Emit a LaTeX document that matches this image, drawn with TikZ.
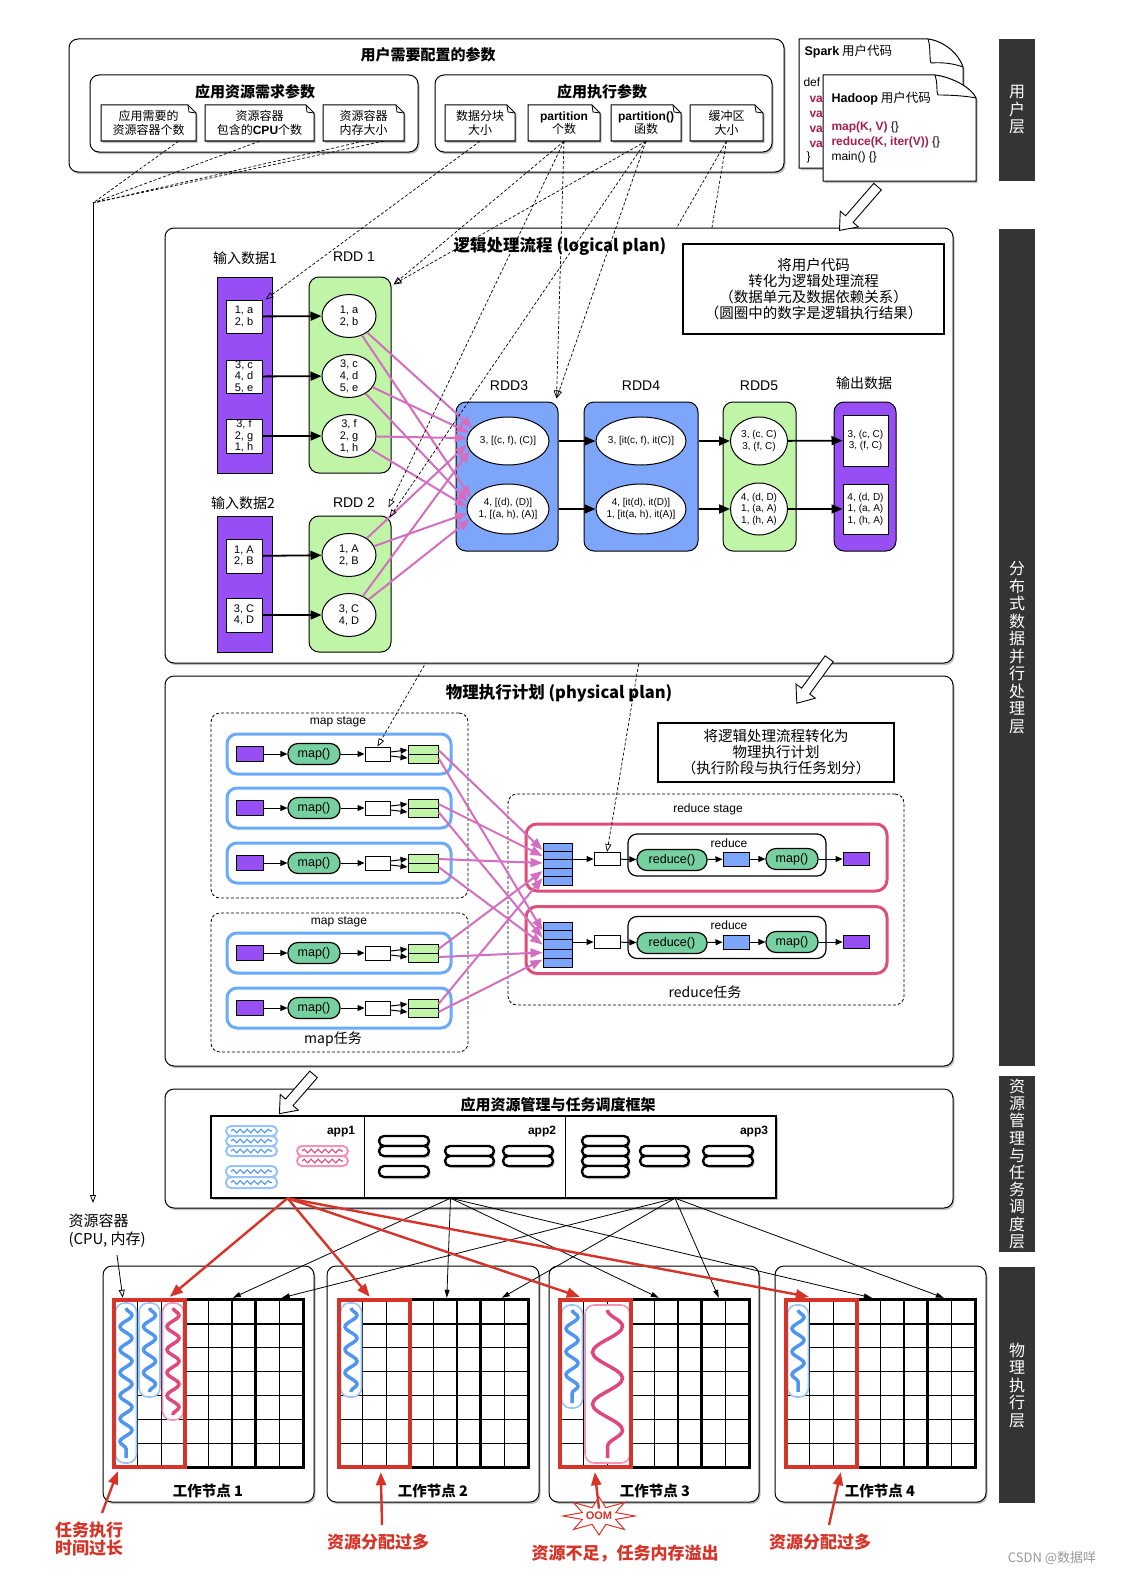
\documentclass[tikz,border=0pt]{standalone}
\usepackage{fontspec}
\setmainfont{Noto Sans CJK SC}
\newfontfamily\lat{Liberation Sans}
\usetikzlibrary{arrows.meta,shapes.geometric,shadows,fit,calc,decorations.pathmorphing}
\newcommand\fsz[2]{\fontsize{#1pt}{#2pt}\selectfont}
\definecolor{vpurple}{RGB}{152,78,245}
\definecolor{lgreen}{RGB}{192,245,168}
\definecolor{lblue}{RGB}{125,165,250}
\definecolor{pinkarr}{RGB}{212,110,192}
\definecolor{mint}{RGB}{118,208,160}
\definecolor{mapblue}{RGB}{105,170,250}
\definecolor{redtask}{RGB}{222,78,118}
\definecolor{annred}{RGB}{214,52,40}
\definecolor{bardark}{RGB}{52,52,52}
\definecolor{codered}{RGB}{168,30,78}
\definecolor{wblue}{RGB}{80,150,240}
\definecolor{capblue}{RGB}{150,195,250}
\definecolor{wpink}{RGB}{222,72,122}
\definecolor{cappink}{RGB}{240,150,180}
\newcommand\pdoc[6]{%
  \draw[line width=1pt,fill=white,shd] ({#2-#4/2},{#3-#5/2}) -- ({#2+#4/2-8},{#3-#5/2}) -- ({#2+#4/2},{#3-#5/2+8}) -- ({#2+#4/2},{#3+#5/2}) -- ({#2-#4/2},{#3+#5/2}) -- cycle;
  \draw[line width=0.8pt] ({#2+#4/2-8},{#3-#5/2}) -- ({#2+#4/2-7},{#3-#5/2+7}) -- ({#2+#4/2},{#3-#5/2+8});
  \node[docn,minimum width=#4pt,minimum height=#5pt] (#1) at (#2,#3) {#6};
}
\newcommand\wgrid[2]{%
  \node[fit={(#2,1300) ({#2+189},1467)},inner sep=0pt,fill=white] (#1) {};
  \foreach \k in {1,...,7}{\draw[line width=1.3pt] ({#2+\k*23.625},1300) -- ({#2+\k*23.625},1467);}
  \foreach \k in {1,...,6}{\draw[line width=1.3pt] (#2,{1300+\k*23.857}) -- ({#2+189},{1300+\k*23.857});}
  \draw[line width=2.8pt] ({#2+6*23.625},1300) -- ({#2+6*23.625},1467);
  \draw[line width=2.8pt] (#1.north west) rectangle (#1.south east);
}
\newcommand\wcap[8]{%
  \draw[draw=#5,line width=1.6pt,fill=white,rounded corners=9pt] (#1,#2) rectangle (#3,#4);
  \draw[#6,line width=3.5pt,decorate,decoration={snake,amplitude=#7pt,segment length=#8pt}] ({(#1+#3)/2},{#2+5}) -- ({(#1+#3)/2},{#4-5});
}
\newcommand\bcap[4]{\draw[line width=2.4pt,fill=white,rounded corners=5pt,shd] (#1,#2) rectangle (#3,#4);}
\newcommand\acap[6]{%
  \draw[draw=#5,line width=2pt,fill=white,rounded corners=5pt] (#1,#2) rectangle (#3,#4);
  \draw[#6,line width=1.1pt,decorate,decoration={snake,amplitude=1.8pt,segment length=7pt}] ({#1+5},{(#2+#4)/2}) -- ({#3-5},{(#2+#4)/2});
}
\newcommand\harrow[4]{%
  \begin{scope}[shift={(#1,#2)},rotate=#3]
    \draw[line width=0.9pt,fill=white] ({-#4/2},-5) -- ({#4/2-15},-5) -- ({#4/2-15},-12) -- ({#4/2},0) -- ({#4/2-15},12) -- ({#4/2-15},5) -- ({-#4/2},5) -- cycle;
  \end{scope}}
\begin{document}
\begin{tikzpicture}[x=1pt,y=-1pt,
  shd/.style={drop shadow={shadow xshift=1.5pt,shadow yshift=-2pt,opacity=0.35,fill=black!70}},
  bigbox/.style={fit={#1},inner sep=0pt,draw=black,line width=1pt,rounded corners=9pt,fill=white,shd},
  ttl/.style={font=\bfseries\fsz{15}{16}},
  bigttl/.style={font=\bfseries\fsz{16.5}{18}},
  docn/.style={inner sep=0pt,align=center,font=\fsz{12}{13.5}},
  notebox/.style={fit={#1},inner sep=0pt,draw=black,line width=1.1pt,fill=white},
  notetxt/.style={align=center,font=\fsz{14.5}{16}},
  lbl/.style={font=\fsz{14}{15}},
  rddl/.style={font=\lat\fsz{14}{15}},
  pur/.style={fit={#1},inner sep=0pt,draw=black,line width=1pt,fill=vpurple},
  purr/.style={fit={#1},inner sep=0pt,draw=black,line width=1pt,fill=vpurple,rounded corners=10pt},
  grn/.style={fit={#1},inner sep=0pt,draw=black,line width=1pt,fill=lgreen,rounded corners=10pt},
  blu/.style={fit={#1},inner sep=0pt,draw=black,line width=1pt,fill=lblue,rounded corners=10pt},
  wbox/.style={draw=black,line width=1pt,fill=white,inner sep=0pt,minimum width=36pt,align=center,font=\lat\fsz{11}{11.5}},
  ell/.style={ellipse,draw=black,line width=1pt,fill=white,inner sep=-8pt,align=center,font=\lat\fsz{11}{12}},
  ells/.style={ell,font=\lat\fsz{10}{11.5}},
  barr/.style={line width=1.8pt,-{Triangle[length=11pt,width=9pt]}},
  parr/.style={draw=pinkarr,line width=2pt,-{Triangle[length=12pt,width=9pt]}},
  darr/.style={line width=0.7pt,dash pattern=on 3pt off 2pt,-{Triangle[open,length=8pt,width=6pt]}},
  oarr/.style={line width=0.8pt,-{Triangle[open,length=8pt,width=6pt]}},
  sarr/.style={line width=1pt,-{Triangle[length=7pt,width=6pt]}},
  karr/.style={line width=0.8pt,-{Triangle[length=8pt,width=5pt]}},
  rarr/.style={draw=annred,line width=2.4pt,-{Triangle[length=13pt,width=10pt]}},
  stg/.style={fit={#1},inner sep=0pt,draw=black,line width=0.8pt,dash pattern=on 3pt off 2pt,rounded corners=9pt},
  mtask/.style={draw=mapblue,line width=3pt,fill=white,rounded corners=10pt,minimum width=224pt,minimum height=40pt,inner sep=0pt},
  rtask/.style={draw=redtask,line width=3pt,fill=white,rounded corners=11pt,minimum width=361pt,inner sep=0pt},
  prect/.style={draw=black,line width=1pt,fill=vpurple,minimum width=27pt,minimum height=15pt,inner sep=0pt},
  wrect/.style={draw=black,line width=1pt,fill=white,minimum width=25pt,minimum height=14pt,inner sep=0pt},
  grect/.style={draw=black,line width=1pt,fill=lgreen,minimum width=30pt,minimum height=18pt,inner sep=0pt},
  brect/.style={draw=black,line width=1pt,fill=lblue,minimum width=26pt,minimum height=14pt,inner sep=0pt},
  fn/.style={draw=black,line width=1.2pt,fill=mint,rounded corners=10pt,minimum height=21pt,inner sep=0pt,font=\lat\fsz{12.5}{13}},
  ibox/.style={draw=black,line width=1.2pt,fill=white,rounded corners=9pt,minimum width=198pt,minimum height=42pt,inner sep=0pt},
  barn/.style={fill=bardark,text=white,minimum width=36pt,inner sep=0pt,align=center,font=\fsz{16}{17.5}},
  anntxt/.style={text=annred,font=\bfseries\fsz{17}{18.5},align=center},
  sml/.style={font=\lat\fsz{12}{13}}
]
\useasboundingbox (0,0) rectangle (1120,1576);
\fill[white] (0,0) rectangle (1120,1576);

% ---------- layer bars ----------
\node[barn,minimum height=142pt] (bar1) at (1017,110) {用\\户\\层};
\node[barn,minimum height=837pt] (bar2) at (1017,647.5) {分\\布\\式\\数\\据\\并\\行\\处\\理\\层};
\node[barn,minimum height=176pt,font=\fsz{16}{17.2}] (bar3) at (1017,1164) {资\\源\\管\\理\\与\\任\\务\\调\\度\\层};
\node[barn,minimum height=236pt] (bar4) at (1017,1385) {物\\理\\执\\行\\层};

% ---------- user parameters ----------
\node[bigbox={(69,39) (784,172)}] (userp) {};
\node[ttl] (userpt) at (428,55) {用户需要配置的参数};
\node[bigbox={(90,75) (418,152)}] (resp) {};
\node[ttl] (respt) at (255,92) {应用资源需求参数};
\node[bigbox={(435,75) (772,152)}] (execp) {};
\node[ttl] (execpt) at (602,92) {应用执行参数};
\pdoc{d1}{148.5}{123}{95}{36}{应用需要的\\资源容器个数}
\pdoc{d2}{259.5}{123}{109}{36}{资源容器\\包含的\textbf{\lat CPU}个数}
\pdoc{d3}{363.5}{123}{81}{36}{资源容器\\内存大小}
\pdoc{d4}{480}{123}{70}{36}{数据分块\\大小}
\pdoc{d5}{564}{123}{72}{36}{\textbf{\lat partition}\\个数}
\pdoc{d6}{646}{123}{70}{36}{\textbf{\lat partition()}\\函数}
\pdoc{d7}{726.5}{123}{73}{36}{缓冲区\\大小}

% ---------- user code documents ----------
\draw[line width=1pt,fill=white,shd] (799,39) -- (928,39) .. controls (944,41) and (959,54) .. (963,67) -- (963,168) -- (799,168) -- cycle;
\draw[line width=0.9pt] (928,39) .. controls (931,48) and (929,58) .. (931,63) .. controls (944,62) and (955,64) .. (963,67);
\node[anchor=west,font=\fsz{12.5}{13}] (spk) at (801,52) {{\lat\bfseries Spark} 用户代码};
\node[anchor=west,sml] (spdef) at (800,82) {def};
\foreach \k/\yy in {1/98,2/113,3/128,4/143}{\node[anchor=west,font=\lat\bfseries\fsz{12}{13},text=codered] (spv\k) at (806,\yy) {val};}
\node[anchor=west,sml] (spend) at (803,157) {\}};
\draw[line width=1pt,fill=white,shd] (823,75) -- (935,75) .. controls (952,77) and (972,88) .. (976,98) -- (976,181) -- (823,181) -- cycle;
\draw[line width=0.9pt] (935,75) .. controls (938,84) and (936,92) .. (938,95) .. controls (952,95) and (966,96) .. (976,98);
\node[anchor=west,font=\fsz{12.5}{13}] (hdp) at (828,99) {{\lat\bfseries Hadoop} 用户代码};
\node[anchor=west,sml] (hmap) at (828,127) {\textcolor{codered}{\bfseries map(K, V)} \{\}};
\node[anchor=west,sml] (hred) at (828,142) {\textcolor{codered}{\bfseries reduce(K, iter(V))} \{\}};
\node[anchor=west,sml] (hmain) at (828,157) {main() \{\}};

% ---------- physical plan ----------
\node[bigbox={(165,676) (953,1066)}] (phys) {};
\node[bigttl] (physt) at (559,693) {物理执行计划 (physical plan)};
\node[notebox={(658,723) (894,782)}] (pnote) {};
\node[notetxt] (pnotet) at (pnote) {将逻辑处理流程转化为\\物理执行计划\\（执行阶段与执行任务划分）};
\node[stg={(211,713) (468,898)}] (ms1) {};
\node[sml] (ms1t) at (338,722) {map stage};
\node[stg={(211,913) (468,1052)}] (ms2) {};
\node[sml] (ms2t) at (339,922) {map stage};
\node[lbl] (mtl) at (333,1039) {map任务};
\foreach \i/\cy in {1/754,2/808,3/863,4/953,5/1008}{
  \node[mtask] (mt\i) at (339,\cy) {};
  \node[prect] (mp\i) at (249.5,\cy) {};
  \node[fn,minimum width=52pt] (mf\i) at (314,\cy) {map()};
  \node[wrect] (mw\i) at (377.5,\cy) {};
  \node[grect] (mg\i) at (423,\cy) {};
  \draw[line width=1pt] (mg\i.west) -- (mg\i.east);
  \draw[sarr] (mp\i) -- (mf\i);
  \draw[sarr] (mf\i) -- (mw\i);
  \draw[sarr] ([yshift=2pt]mw\i.east) -- ([yshift=4pt]mg\i.west);
  \draw[sarr] ([yshift=-2pt]mw\i.east) -- ([yshift=-4pt]mg\i.west);
}
\node[stg={(508,794) (904,1005)}] (rst) {};
\node[sml] (rstt) at (708,809) {reduce stage};
\node[lbl] (rtl) at (705,992) {reduce任务};
\foreach \i/\cy/\sy/\hh/\ty/\ey in {1/859/864/42/857.5/855,2/942/944.5/45/940/937.5}{
  \node[rtask,minimum height=67pt] (rt\i) at (706.5,\ty) {};
  \node[brect,minimum width=29pt,minimum height=\hh pt] (rs\i) at (557.5,\sy) {};
  \foreach \k in {1,2,3,4}{\draw[line width=1pt] ($(rs\i.north west)!\k/5!(rs\i.south west)$) -- ($(rs\i.north east)!\k/5!(rs\i.south east)$);}
  \node[wrect,minimum width=26pt,minimum height=13pt] (rw\i) at (607,\cy) {};
  \node[ibox] (rb\i) at (727,\ey) {};
  \node[sml] (rbt\i) at (729,{\ey-12}) {reduce};
  \node[fn,minimum width=70pt] (rf\i) at (672,{\cy+1}) {reduce()};
  \node[brect] (rbl\i) at (736,\cy) {};
  \node[fn,minimum width=52pt] (rm\i) at (792,\cy) {map()};
  \node[prect,minimum width=26pt,minimum height=13pt] (rp\i) at (856,\cy) {};
  \draw[sarr] (rs\i.east |- rw\i) -- (rw\i);
  \draw[sarr] (rw\i) -- (rf\i);
  \draw[sarr] (rf\i) -- (rbl\i);
  \draw[sarr] (rbl\i) -- (rm\i);
  \draw[sarr] (rm\i) -- (rp\i);
}
\foreach \i/\ya/\yb in {1/14/14,2/8/7,3/1/0,4/-7/-8,5/-14/-15}{
  \draw[parr] ([yshift=4pt]mg\i.east) -- ([yshift=\ya pt]rs1.west);
  \draw[parr] ([yshift=-4pt]mg\i.east) -- ([yshift=\yb pt]rs2.west);
}
% buffer size lines (behind logical plan)
\draw[darr] (d7.south) -- (mw1.north);
\draw[darr] (d7.south) -- (rw1.north);

% ---------- logical plan ----------
\node[bigbox={(165,228) (953,663)}] (logi) {};
\node[bigttl] (logit) at (560,246) {逻辑处理流程 (logical plan)};
\node[notebox={(683,244) (944,334)}] (lnote) {};
\node[notetxt] (lnotet) at (lnote) {将用户代码\\转化为逻辑处理流程\\（数据单元及数据依赖关系）\\（圆圈中的数字是逻辑执行结果）};
\node[lbl] (in1l) at (245,258) {输入数据1};
\node[rddl] (r1l) at (354,257) {RDD 1};
\node[lbl] (in2l) at (243,503) {输入数据2};
\node[rddl] (r2l) at (354,503) {RDD 2};
\node[rddl] (r3l) at (509,386) {RDD3};
\node[rddl] (r4l) at (641,386) {RDD4};
\node[rddl] (r5l) at (759,386) {RDD5};
\node[lbl] (outl) at (864,383) {输出数据};

\node[pur={(217,277) (272,473)}] (in1) {};
\node[wbox,minimum height=33pt] (ib1a) at (244,316.5) {1, a\\2, b};
\node[wbox,minimum height=33pt] (ib1b) at (244,376.5) {3, c\\4, d\\5, e};
\node[wbox,minimum height=34pt] (ib1c) at (244,436) {3, f\\2, g\\1, h};
\node[grn={(309,277) (391,473)}] (r1) {};
\node[ell,minimum width=54pt,minimum height=43pt] (r1a) at (349,316) {1, a\\2, b};
\node[ell,minimum width=54pt,minimum height=43pt] (r1b) at (349,376) {3, c\\4, d\\5, e};
\node[ell,minimum width=54pt,minimum height=43pt] (r1c) at (349,436) {3, f\\2, g\\1, h};
\node[pur={(217,516) (272,652)}] (in2) {};
\node[wbox,minimum height=34pt] (ib2a) at (244,556) {1, A\\2, B};
\node[wbox,minimum height=34pt] (ib2b) at (244,615) {3, C\\4, D};
\node[grn={(309,516) (391,652)}] (r2) {};
\node[ell,minimum width=54pt,minimum height=43pt] (r2a) at (349,555) {1, A\\2, B};
\node[ell,minimum width=54pt,minimum height=43pt] (r2b) at (349,615) {3, C\\4, D};
\node[blu={(456,402) (558,551)}] (r3) {};
\node[ells,minimum width=82pt,minimum height=48pt] (r3a) at (508,441) {3, [(c, f), (C)]};
\node[ells,minimum width=82pt,minimum height=50pt] (r3b) at (508,509) {4, [(d), (D)]\\1, [(a, h), (A)]};
\node[blu={(584,402) (698,551)}] (r4) {};
\node[ells,minimum width=90pt,minimum height=48pt] (r4a) at (641,441) {3, [it(c, f), it(C)]};
\node[ells,minimum width=90pt,minimum height=50pt] (r4b) at (641,509) {4, [it(d), it(D)]\\1, [it(a, h), it(A)]};
\node[grn={(723,402) (796,551)}] (r5) {};
\node[ells,minimum width=57pt,minimum height=48pt] (r5a) at (759,441) {3, (c, C)\\3, (f, C)};
\node[ells,minimum width=57pt,minimum height=52pt] (r5b) at (759,509) {4, (d, D)\\1, (a, A)\\1, (h, A)};
\node[purr={(834,402) (896,551)}] (out) {};
\node[wbox,minimum width=45pt,minimum height=51pt,font=\lat\fsz{10}{11.5}] (oa) at (865.5,440.5) {3, (c, C)\\3, (f, C)};
\node[wbox,minimum width=45pt,minimum height=50pt,font=\lat\fsz{10}{11.5}] (ob) at (865.5,509) {4, (d, D)\\1, (a, A)\\1, (h, A)};

\draw[barr] (ib1a) -- (r1a);
\draw[barr] (ib1b) -- (r1b);
\draw[barr] (ib1c) -- (r1c);
\draw[barr] (ib2a) -- (r2a);
\draw[barr] (ib2b) -- (r2b);
\draw[barr] (r3.east |- r3a) -- (r4a);
\draw[barr] (r3.east |- r3b) -- (r4b);
\draw[barr] (r4.east |- r4a) -- (r5a);
\draw[barr] (r4.east |- r4b) -- (r5b);
\draw[barr] (r5a) -- (oa);
\draw[barr] (r5b) -- (ob);
\foreach \src/\angA/\angB in {r1a/160/163,r1b/168/170,r1c/176/177,r2a/185/186,r2b/194/195}{
  \draw[parr] (\src) -- (r3a.\angA);
  \draw[parr] (\src) -- (r3b.\angB);
}

% parameter dashed lines into logical plan
\draw[darr] (d4.south) -- ([xshift=3pt]ib1a.north east);
\draw[darr] (d5.south) -- ([xshift=2pt,yshift=-8pt]r1.north east);
\draw[darr] (d6.south) -- ([xshift=2pt,yshift=-8pt]r1.north east);
\draw[darr] (d5.south) -- ([xshift=-2pt,yshift=3pt]r3.north east);
\draw[darr] (d6.south) -- ([xshift=-2pt,yshift=3pt]r3.north east);
\draw[darr] (d5.south) -- ([xshift=-3pt,yshift=8pt]r2.north east);
\draw[darr] (d6.south) -- ([xshift=-2pt,yshift=-2pt]r2.north east);

% resource parameter lines
\coordinate (rc) at (93,203);
\coordinate (rce) at (93,1203);
\draw[line width=0.7pt,dash pattern=on 3pt off 2pt] ([xshift=30pt]d1.south) -- (rc);
\draw[line width=0.7pt,dash pattern=on 3pt off 2pt] (d2.south) -- (rc);
\draw[line width=0.7pt,dash pattern=on 3pt off 2pt] (d3.south) -- (rc);
\draw[line width=0.7pt,dash pattern=on 3pt off 2pt] ([xshift=20pt]d3.south) -- (rc);
\draw[oarr] (rc) -- (rce);

% ---------- resource management ----------
\node[bigbox={(165,1089) (953,1208)}] (rmgr) {};
\node[ttl] (rmgrt) at (558,1105) {应用资源管理与任务调度框架};
\node[fit={(211,1116) (776,1198)},inner sep=0pt,draw=black,line width=1.2pt,fill=white,shd] (appf) {};
\node[fit={(211,1116) (364,1198)},inner sep=0pt] (app1) {};
\node[fit={(364,1116) (565,1198)},inner sep=0pt] (app2) {};
\node[fit={(565,1116) (776,1198)},inner sep=0pt] (app3) {};
\draw[line width=1.2pt] (app1.north east) -- (app1.south east);
\draw[line width=1.2pt] (app2.north east) -- (app2.south east);
\node[font=\lat\bfseries\fsz{12}{13}] (app1t) at (341,1132) {app1};
\node[font=\lat\bfseries\fsz{12}{13}] (app2t) at (542,1132) {app2};
\node[font=\lat\bfseries\fsz{12}{13}] (app3t) at (754,1132) {app3};
\acap{226}{1126}{277}{1136}{capblue}{wblue}
\acap{226}{1136}{277}{1146}{capblue}{wblue}
\acap{226}{1146}{277}{1156}{capblue}{wblue}
\acap{226}{1166}{277}{1177}{capblue}{wblue}
\acap{226}{1177}{277}{1188}{capblue}{wblue}
\acap{297}{1146}{348}{1156}{cappink}{wpink}
\acap{297}{1156}{348}{1166}{cappink}{wpink}
\bcap{379}{1136}{429}{1146}\bcap{379}{1146}{429}{1156}\bcap{379}{1166}{429}{1177}
\bcap{445}{1146}{494}{1156}\bcap{445}{1156}{494}{1166}
\bcap{503}{1146}{553}{1156}\bcap{503}{1156}{553}{1166}
\bcap{582}{1136}{629}{1146}\bcap{582}{1146}{629}{1156}\bcap{582}{1156}{629}{1166}\bcap{582}{1166}{629}{1177}
\bcap{640}{1146}{689}{1156}\bcap{640}{1156}{689}{1166}
\bcap{703}{1146}{753}{1156}\bcap{703}{1156}{753}{1166}

% ---------- worker nodes ----------
\node[bigbox={(103,1266) (314,1502)}] (wn1) {};
\node[bigbox={(327,1266) (539,1502)}] (wn2) {};
\node[bigbox={(549,1266) (759,1502)}] (wn3) {};
\node[bigbox={(775,1266) (986,1502)}] (wn4) {};
\wgrid{g1}{114}
\wgrid{g2}{339}
\wgrid{g3}{560}
\wgrid{g4}{786}
\wcap{115.5}{1303}{136.5}{1463}{capblue}{wblue}{6}{23}
\wcap{139}{1303}{160}{1397}{capblue}{wblue}{6}{23}
\wcap{162.5}{1303}{183.5}{1420}{cappink}{wpink}{6}{23}
\wcap{340.5}{1303}{361.5}{1397}{capblue}{wblue}{6}{23}
\wcap{561.5}{1305}{582.5}{1408}{capblue}{wblue}{6}{23}
\wcap{585}{1305}{630}{1463}{cappink}{wpink}{15}{52}
\wcap{787.5}{1305}{808.5}{1397}{capblue}{wblue}{6}{23}
\draw[annred,line width=4pt] (g1.north west) rectangle ([xshift=70.9pt]g1.south west);
\draw[annred,line width=4pt] (g2.north west) rectangle ([xshift=70.9pt]g2.south west);
\draw[annred,line width=4pt] (g3.north west) rectangle ([xshift=70.9pt]g3.south west);
\draw[annred,line width=4pt] (g4.north west) rectangle ([xshift=70.9pt]g4.south west);
\node[font=\bfseries\fsz{14.5}{15}] (wn1t) at (208,1491) {工作节点 1};
\node[font=\bfseries\fsz{14.5}{15}] (wn2t) at (433,1491) {工作节点 2};
\node[font=\bfseries\fsz{14.5}{15}] (wn3t) at (655,1491) {工作节点 3};
\node[font=\bfseries\fsz{14.5}{15}] (wn4t) at (880,1491) {工作节点 4};

% scheduling arrows
\draw[karr] ([xshift=-14pt]app2.south) -- ([xshift=119pt,yshift=2pt]g1.north west);
\draw[karr] ([xshift=-14pt]app2.south) -- ([xshift=108pt,yshift=2pt]g2.north west);
\draw[karr] ([xshift=-14pt]app2.south) -- ([xshift=99pt,yshift=2pt]g3.north west);
\draw[karr] ([xshift=-14pt]app2.south) -- ([xshift=86pt,yshift=2pt]g4.north west);
\draw[karr] ([xshift=4.5pt]app3.south) -- ([xshift=168pt,yshift=2pt]g1.north west);
\draw[karr] ([xshift=4.5pt]app3.south) -- ([xshift=163pt,yshift=2pt]g2.north west);
\draw[karr] ([xshift=4.5pt]app3.south) -- ([xshift=159pt,yshift=2pt]g3.north west);
\draw[karr] ([xshift=4.5pt]app3.south) -- ([xshift=158pt,yshift=2pt]g4.north west);
\draw[rarr] (app1.south) -- ([xshift=56pt,yshift=3pt]g1.north west);
\draw[rarr] (app1.south) -- ([xshift=31pt,yshift=3pt]g2.north west);
\draw[rarr] (app1.south) -- ([xshift=20pt,yshift=3pt]g3.north west);
\draw[rarr] (app1.south) -- ([xshift=23pt,yshift=3pt]g4.north west);

% resource container label
\node[align=left,anchor=west,font=\fsz{15}{18}] (rcl) at (65,1231) {资源容器\\(CPU, 内存)};
\coordinate (rca) at (117,1255);
\draw[oarr] (rca) -- ([xshift=9pt,yshift=2pt]g1.north west);

% annotations
\coordinate (a1s) at (102,1513);
\draw[rarr] (a1s) -- ([xshift=4pt,yshift=-4pt]g1.south west);
\node[anntxt] (a1t) at (89,1539) {任务执行\\时间过长};
\coordinate (a2s) at (382,1525);
\draw[rarr] (a2s) -- ([xshift=42pt,yshift=-5pt]g2.south west);
\node[anntxt] (a2t) at (378,1542) {资源分配过多};
\coordinate (a4s) at (829,1525);
\draw[rarr] (a4s) -- ([xshift=55pt,yshift=-5pt]g4.south west);
\node[anntxt] (a4t) at (820,1542) {资源分配过多};
\draw[annred,line width=1pt,fill=white] plot[samples at={0,1,...,15}] ({599+ifthenelse(mod(\x,2)==0,36,18)*cos(\x*22.5)},{1516+ifthenelse(mod(\x,2)==0,19,9)*sin(\x*22.5)}) -- cycle;
\node[text=annred,font=\lat\bfseries\fsz{11}{11}] (oom) at (599,1516) {OOM};
\draw[rarr] (oom.north) -- ([xshift=35pt,yshift=-5pt]g3.south west);
\node[anntxt] (a3t) at (625,1553) {资源不足，任务内存溢出};
\node[text=black!40,font=\fsz{13}{14}] (wm) at (1052,1558) {CSDN @数据咩};

% hollow block arrows
\harrow{858.5}{208.5}{-131}{58}
\harrow{813}{681}{-126}{55}
\harrow{296.5}{1094}{-131}{52}
\end{tikzpicture}
\end{document}
